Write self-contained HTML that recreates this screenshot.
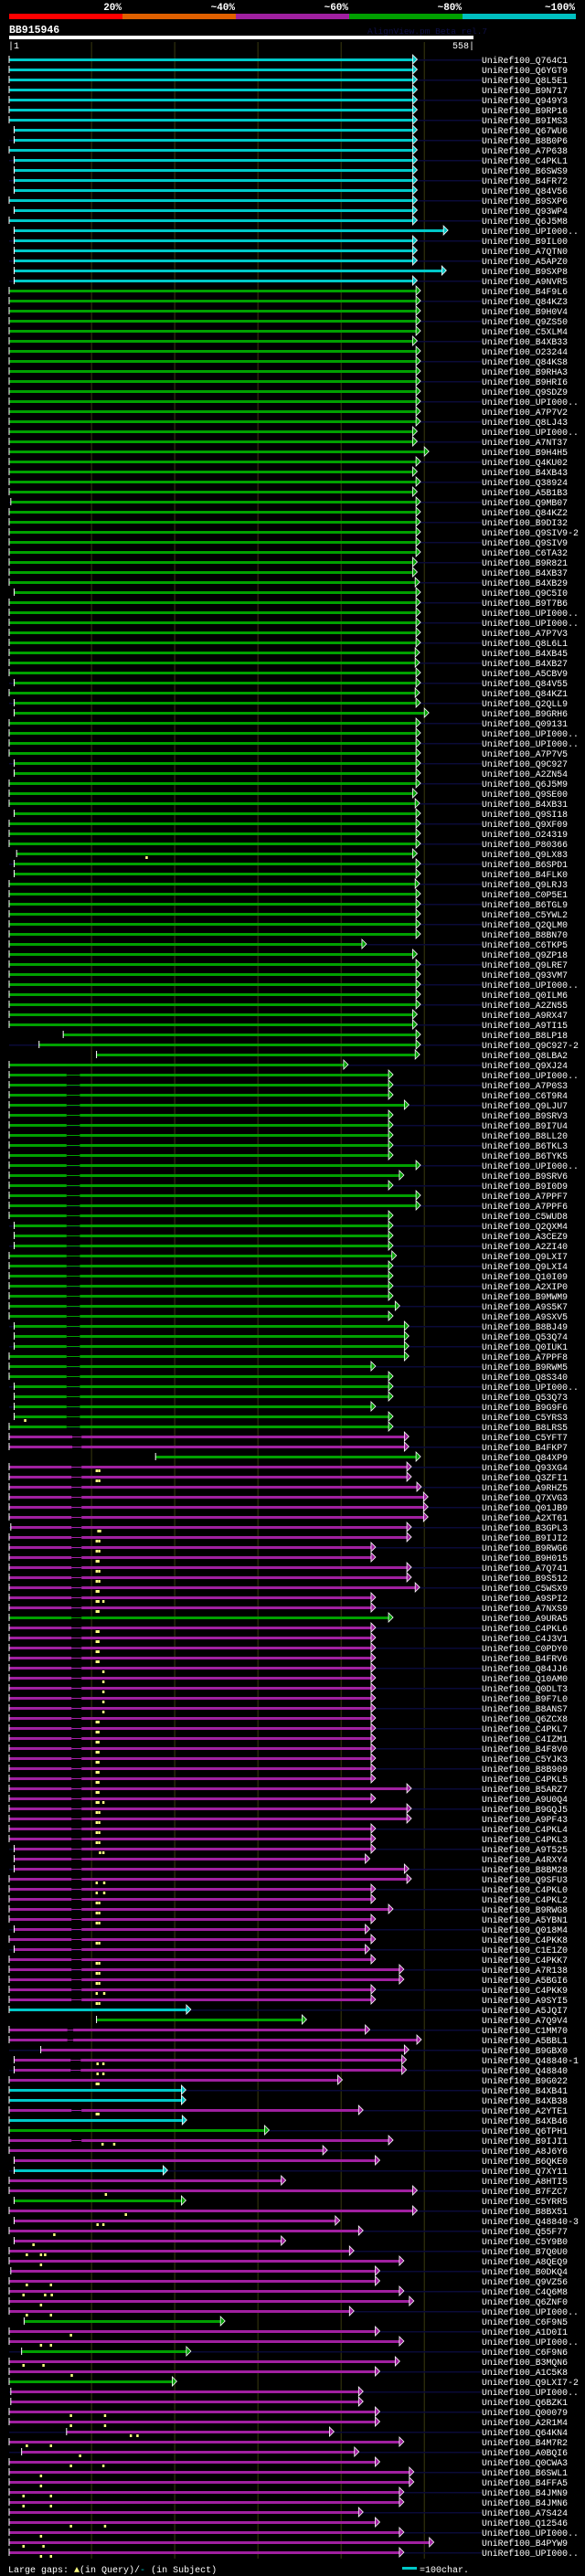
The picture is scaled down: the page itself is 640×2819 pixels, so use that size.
<!DOCTYPE html>
<html><head><meta charset="utf-8"><style>
html,body{margin:0;padding:0;background:#000;}
svg{display:block;}
text{font-family:"Liberation Mono",monospace;}
</style></head><body>
<svg id="chart" width="640" height="2819" viewBox="0 0 640 2819" xmlns="http://www.w3.org/2000/svg">
<rect width="640" height="2819" fill="#000"/>
<g>
<rect x="10" y="15" width="124" height="6" fill="#ff0000"/>
<rect x="134" y="15" width="124" height="6" fill="#e06000"/>
<rect x="258" y="15" width="124" height="6" fill="#a020a0"/>
<rect x="382" y="15" width="124" height="6" fill="#00a000"/>
<rect x="506" y="15" width="124" height="6" fill="#00c0c0"/>
<g font-weight="bold" font-size="11" fill="#fff" text-anchor="end">
<text x="133" y="11">20%</text>
<text x="257" y="11">~40%</text>
<text x="381" y="11">~60%</text>
<text x="505" y="11">~80%</text>
<text x="629" y="11">~100%</text>
</g></g>
<text x="10" y="36" font-weight="bold" font-size="11.5" fill="#fff">BB915946</text>
<text x="402" y="37" font-size="9.5" fill="#101048">AlignView.pm Beta rel.7</text>
<rect x="10" y="39" width="508" height="4" fill="#fff"/>
<text x="9" y="53" font-size="10" fill="#fff">|1</text>
<text x="519" y="53" font-size="10" fill="#fff" text-anchor="end">558|</text>
<g id="grid"></g>
<g id="rows"></g>
<g font-size="10" fill="#fff">
<text x="9" y="2815">Large gaps: <tspan fill="#ffff80">▲</tspan>(in Query)/<tspan fill="#00c8c8">-</tspan> (in Subject)</text>
<rect x="440" y="2809" width="16" height="3" fill="#00c8c8"/>
<text x="459" y="2815">=100char.</text>
</g>
</svg>
<script>
const gridTicks=[100,200,300,400,500];
const names=["Q764C1","Q6YGT9","Q8L5E1","B9N717","Q949Y3","B9RP16","B9IMS3","Q67WU6","B8B0P6","A7P638","C4PKL1","B6SWS9","B4FR72","Q84V56","B9SXP6","Q93WP4","Q6J5M8","UPI000..","B9IL00","A7QTN0","A5APZ0","B9SXP8","A9NVR5",
"B4F9L6","Q84KZ3","B9H0V4","Q9ZS50","C5XLM4","B4XB33","O23244","Q84KS8","B9RHA3","B9HRI6","Q9SDZ9","UPI000..","A7P7V2","Q8LJ43","UPI000..","A7NT37","B9H4H5","Q4KU02",
"B4XB43","Q38924","A5B1B3","Q9MB07","Q84KZ2","B9DI32","Q9SIV9-2","Q9SIV9","C6TA32","B9R821","B4XB37","B4XB29","Q9C5I0","B9T7B6","UPI000..","UPI000..","A7P7V3","Q8L6L1","B4XB45","B4XB27","A5CBV9","Q84V55","Q84KZ1","Q2QLL9","B9GRH6","Q09131","UPI000..","UPI000..","A7P7V5","Q9C927","A2ZN54","Q6J5M9","Q9SE00","B4XB31","Q9SI18","Q9XF09","O24319","P80366","Q9LX83","B6SPD1","B4FLK0","Q9LRJ3","C0P5E1","B6TGL9","C5YWL2",
"Q2QLM0","B8BN70","C6TKP5","Q9ZP18","Q9LRE7","Q93VM7","UPI000..","Q0ILM6","A2ZN55","A9RX47","A9TI15","B8LP18","Q9C927-2","Q8LBA2","Q9XJ24","UPI000..","A7P0S3","C6T9R4","Q9LJU7","B9SRV3","B9I7U4","B8LL20","B6TKL3","B6TYK5","UPI000..","B9SRV6","B9I0D9","A7PPF7","A7PPF6","C5WUD8","Q2QXM4","A3CEZ9","A2ZI40","Q9LXI7","Q9LXI4","Q10I09","A2XIP0","B9MWM9","A9S5K7","A9SXV5","B8BJ49","Q53Q74","Q0IUK1","A7PPF8","B9RWM5",
"Q8S340","UPI000..","Q53Q73","B9G9F6","C5YRS3","B8LRS5","C5YFT7","B4FKP7","Q84XP9","Q93XG4","Q3ZFI1","A9RHZ5","Q7XVG3","Q01JB9","A2XT61","B3GPL3","B9IJI2","B9RWG6","B9H015","A7Q741","B9S512","C5WSX9","A9SPI2","A7NXS9","A9URA5","C4PKL6","C4J3V1","C0PDY0","B4FRV6","Q84JJ6","Q10AM0","Q0DLT3","B9F7L0","B8ANS7","Q6ZCX8","C4PKL7","C4IZM1","B4F8V0","C5YJK3","B8B909","C4PKL5","B5ARZ7","A9U0Q4","B9GQJ5","A9PF43",
"C4PKL4","C4PKL3","A9T525","A4RXY4","B8BM28","Q9SFU3","C4PKL0","C4PKL2","B9RWG8","A5YBN1","Q018M4","C4PKK8","C1E1Z0","C4PKK7","A7R138","A5BGI6","C4PKK9","A9SYI5","A5JQI7","A7Q9V4","C1MM70","A5BBL1","B9GBX0","Q48840-1","Q48840","B9G022","B4XB41","B4XB38","A2YTE1","B4XB46","Q6TPH1","B9IJI1","A8J6Y6","B6QKE0","Q7XY11","A8HTI5","B7FZC7","C5YRR5","B8BX51","Q48840-3","Q55F77","C5Y9B0","B7Q0U0","A8QEQ9","B0DKQ4",
"Q9VZ56","C4Q6M8","Q6ZNF0","UPI000..","C6F9N5","A1D0I1","UPI000..","C6F9N6","B3MQN6","A1C5K8","Q9LXI7-2","UPI000..","Q6BZK1","Q00079","A2R1M4","Q64KN4","B4M7R2","A0BQI6","Q0CWA3","B6SWL1","B4FFA5","B4JMN9","B4JMN6","A7S424","Q12546","UPI000..","B4PYW9","UPI000.."];
const kinds="ccccccccccccccccccccccc"+"g".repeat(114)+"mmgmmmmmmmmmmmmmmmgmmmmmmmmmmmmmmmmmmmmmmmmmmmmmmmmmmmmmmcgmmmmmmccmcgmmmcmmgmmmmmmmmmmmgmmgmmgmmmmmmmmmmmmmmmmm";
const starts=[1,1,1,1,1,1,1,7,7,1,7,7,7,7,1,7,1,7,7,7,7,7,7,
1,1,1,1,1,1,1,1,1,1,1,1,1,1,1,1,1,1,
1,1,1,3,1,1,1,1,1,1,1,1,7,1,1,1,1,1,1,1,1,7,1,7,7,1,1,1,1,7,7,1,1,1,7,1,1,1,10,7,7,1,1,1,1,
1,1,1,1,1,1,1,1,1,1,1,66,37,106,1,1,1,1,1,1,1,1,1,1,1,1,1,1,1,1,7,7,7,1,1,1,1,1,1,1,7,7,7,1,1,
1,7,7,7,7,1,1,1,177,1,1,1,1,1,1,3,1,1,1,1,1,1,1,1,1,1,1,1,1,1,1,1,1,1,1,1,1,1,1,1,1,1,1,1,1,
1,1,7,7,7,1,1,1,1,1,7,1,7,1,1,1,1,1,1,106,1,1,39,7,7,1,1,1,1,1,1,1,1,7,7,1,1,7,1,7,1,7,1,1,3,
1,1,1,1,19,1,1,16,1,1,1,3,3,1,1,70,1,16,1,1,1,1,1,1,1,1,1,1];
const ends=[486,486,486,486,486,486,486,486,486,486,486,486,486,486,486,486,486,523,486,486,486,521,486,
490,490,490,490,490,486,490,490,490,490,490,490,490,490,486,486,500,490,
486,490,486,490,490,490,490,490,490,486,486,489,490,490,490,490,490,490,489,489,490,490,489,490,500,490,490,490,490,490,490,490,486,489,490,490,490,490,486,490,490,489,490,490,490,
490,490,425,486,490,490,490,490,490,486,486,490,490,489,403,457,457,457,476,457,457,457,457,457,490,470,457,490,490,457,457,457,457,461,457,457,457,457,465,457,476,476,476,476,436,
457,457,457,436,457,457,476,476,490,479,479,491,499,499,499,479,479,436,436,479,479,489,436,436,457,436,436,436,436,436,436,436,436,436,436,436,436,436,436,436,436,479,436,479,479,
436,436,436,429,476,479,436,436,457,436,429,436,429,436,470,470,436,436,214,353,429,491,476,473,473,396,208,208,421,209,308,457,378,441,186,328,486,208,486,393,421,328,410,470,441,
441,470,482,410,255,441,470,214,465,441,197,421,421,441,441,386,470,416,441,482,482,470,470,421,441,470,506,470];
const gapRowFrom=[101,137,140,155,156,196,199,204,207];
const gapRowTo=[136,138,154,155,193,197,200,204,207];
const gapS=[70,77,76,76,76,71,75,76,76];
const gapE=[86,88,88,88,88,78,87,88,88];
const markRows=[79,135,140,141,146,147,148,149,150,151,152,153,154,156,157,158,159,160,161,162,163,164,165,166,167,168,169,170,171,172,173,174,175,176,177,178,181,182,183,184,185,187,189,190,191,192,193,199,200,201,204,207,212,214,215,216,217,218,219,221,222,223,224,226,227,229,230,234,235,236,237,238,239,240,241,242,243,245,246,247,248];
const markPos=[[166],[20],[106,109],[106,109],[108,110],[106,109],[106,109],[106,108],[106,109],[106,109],[106,108],[106,108,114],[106,108],[106,108],[106,108],[106,108],[106,108],[114],[114],[114],[114],[114],[106,108],[106,108],[106,108],[106,108],[106,108],[106,108],[106,108],[106,108],[106,108,114],[106,109],[106,109],[106,109],[106,109],[110,114],[106,115],[106,115],[106,109],[106,109],[106,109],[106,109],[106,109],[106,109],[106,109],[106,115],[106,109],[107,114],[107,114],[106,108],[106,108],[113,127],[117],[141],[107,114],[55],[30],[22,39,44],[39],[22,51],[18,44,52],[39],[22,51],[75],[39,51],[18,42],[76],[75,116],[75,116],[147,155],[22,51],[86],[75,114],[39],[39],[18,51],[18,51],[75,116],[39],[18,42],[39,51]];
const colors={c:"#00c8c8",g:"#00a000",m:"#a020a0"};
const NS="http://www.w3.org/2000/svg";
function xs(v){return 10+(v-1)*507/557;}
function ys(i){return 65+11*i;}
function mk(tag,attrs,parent){const e=document.createElementNS(NS,tag);for(const k in attrs)e.setAttribute(k,attrs[k]);parent.appendChild(e);return e;}
const grid=document.getElementById('grid');
gridTicks.forEach(t=>{
  const l=mk('line',{x1:xs(t),x2:xs(t),y1:46,y2:2800,stroke:'#3a3a10','stroke-width':1},grid);
  
  
});
const rowsG=document.getElementById('rows');
for(let i=0;i<names.length;i++){
  const y=ys(i);const col=colors[kinds[i]]||"#a020a0";
  const g=mk('g',{},rowsG);
  
  
  if(i%2===0){mk('rect',{x:10,y:y,width:517,height:1.5,fill:'#0a0a38'},g);}
  const s=starts[i],e=ends[i];
  let gs=null,ge=null;
  for(let k=0;k<gapRowFrom.length;k++){if(i>=gapRowFrom[k]&&i<=gapRowTo[k]&&s<gapS[k]){gs=gapS[k];ge=gapE[k];}}
  if(gs!==null){
    mk('rect',{x:xs(s),y:y-1,width:xs(gs)-xs(s),height:3,fill:col},g);
    mk('rect',{x:xs(gs),y:y,width:xs(ge)-xs(gs),height:1,fill:col},g);
    mk('rect',{x:xs(ge),y:y-1,width:xs(e)-xs(ge),height:3,fill:col},g);
  }else{
    mk('rect',{x:xs(s),y:y-1,width:xs(e)-xs(s),height:3,fill:col},g);
  }
  mk('rect',{x:xs(s)-0.5,y:y-4,width:1,height:8,fill:'#fff'},g);
  const ex=xs(e);
  mk('polygon',{points:`${ex},${y-5} ${ex+5},${y} ${ex},${y+5}`,fill:col,stroke:'#fff','stroke-width':0.8},g);
  const t=mk('text',{x:527,y:y+4,'font-size':9.8,fill:'#fff'},g);
  t.textContent='UniRef100_'+names[i];
  
  
}
for(let k=0;k<markRows.length;k++){
  const y=ys(markRows[k]);
  markPos[k].forEach(v=>{
    const m=mk('rect',{x:xs(v)-1,y:y+3,width:2.5,height:3,fill:'#ffff80'},rowsG);
    
    
  });
}
</script>
</body></html>
